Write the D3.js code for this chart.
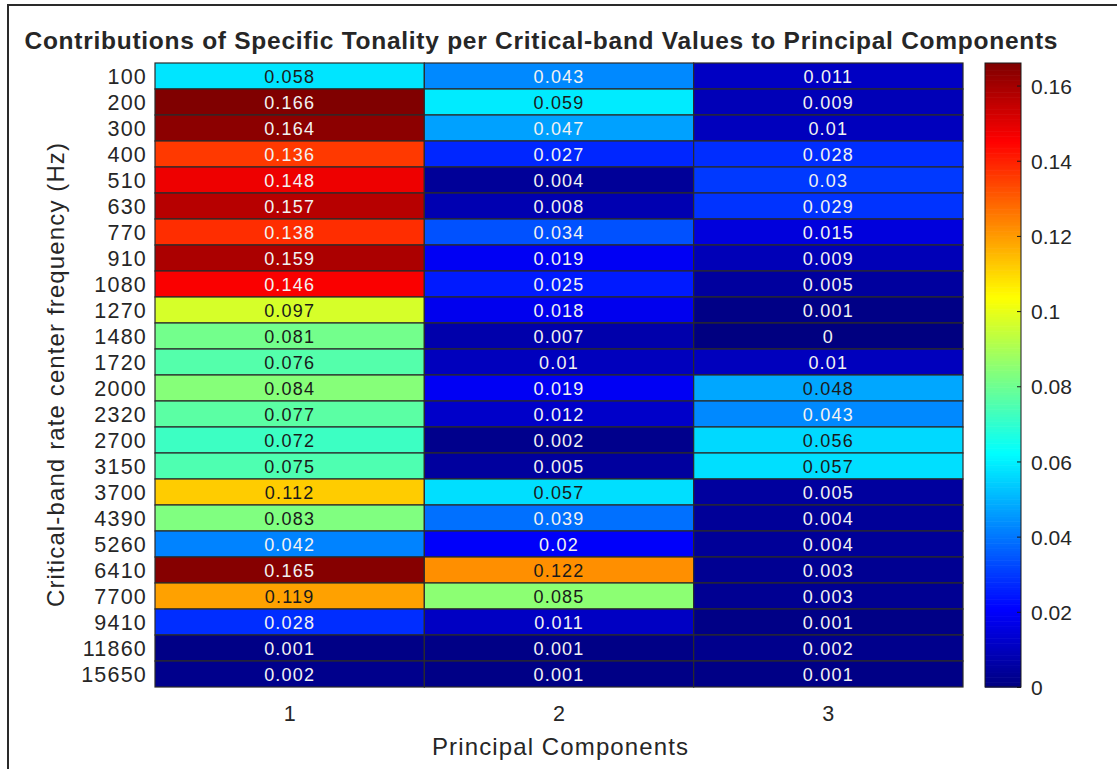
<!DOCTYPE html>
<html>
<head>
<meta charset="utf-8">
<script src="https://cdn.jsdelivr.net/npm/d3@7"></script>
<style>
  html, body { margin: 0; padding: 0; background: #fff; }
  svg { display: block; font-family: "Liberation Sans", Arial, Helvetica, sans-serif; }
</style>
</head>
<body>
<svg id="chart" width="1117" height="769"></svg>
<script>
// Critical-band centre frequencies (rows) and principal components (columns)
const bands = ["100","200","300","400","510","630","770","910","1080","1270","1480","1720",
               "2000","2320","2700","3150","3700","4390","5260","6410","7700","9410","11860","15650"];
const components = ["1","2","3"];

// Contribution of each band to each component
const pc1 = [0.058,0.166,0.164,0.136,0.148,0.157,0.138,0.159,0.146,0.097,0.081,0.076,
             0.084,0.077,0.072,0.075,0.112,0.083,0.042,0.165,0.119,0.028,0.001,0.002];
const pc2 = [0.043,0.059,0.047,0.027,0.004,0.008,0.034,0.019,0.025,0.018,0.007,0.01,
             0.019,0.012,0.002,0.005,0.057,0.039,0.02,0.122,0.085,0.011,0.001,0.001];
const pc3 = [0.011,0.009,0.01,0.028,0.03,0.029,0.015,0.009,0.005,0.001,0,0.01,
             0.048,0.043,0.056,0.057,0.005,0.004,0.004,0.003,0.003,0.001,0.002,0.001];

const colorTicks = [0, 0.02, 0.04, 0.06, 0.08, 0.1, 0.12, 0.14, 0.16];

const series = [pc1, pc2, pc3];
const cells = [];
components.forEach((c, j) => bands.forEach((b, i) => cells.push({comp: c, band: b, value: series[j][i]})));

const svg = d3.select("#chart");
const ink = "#262626";

// figure frame (top and left edges visible)
svg.append("path").attr("d", "M8,769 V5 H1117").attr("fill", "none")
  .attr("stroke", "#2a2a2a").attr("stroke-width", 2);

const plot = {left: 155, right: 963, top: 63, bottom: 687};

const x = d3.scaleBand().domain(components).range([plot.left, plot.right]);
const y = d3.scaleBand().domain(bands).range([plot.top, plot.bottom]);

const vmin = d3.min(cells, d => d.value), vmax = d3.max(cells, d => d.value);

// jet colormap
function jet(t) {
  const c = v => Math.max(0, Math.min(1, v));
  return [c(1.5 - Math.abs(4 * t - 3)), c(1.5 - Math.abs(4 * t - 2)), c(1.5 - Math.abs(4 * t - 1))];
}
const norm = d3.scaleLinear().domain([vmin, vmax]).range([0, 1]).clamp(true);
const rgbOf = v => jet(norm(v));
const colorOf = v => { const [r, g, b] = rgbOf(v); return d3.rgb(r * 255, g * 255, b * 255).formatHex(); };
const textColorOf = v => {
  const [r, g, b] = rgbOf(v);
  return (0.2989 * r + 0.587 * g + 0.114 * b) > 0.49 ? "#1a1a1a" : "#f2f2f2";
};

// heatmap cells
const g = svg.append("g");
g.selectAll("rect.cell").data(cells).join("rect")
  .attr("class", "cell")
  .attr("x", d => x(d.comp)).attr("y", d => y(d.band))
  .attr("width", x.bandwidth()).attr("height", y.bandwidth())
  .attr("fill", d => colorOf(d.value))
  .attr("stroke", "#2b2b2b").attr("stroke-width", 1.2);

g.selectAll("text.val").data(cells).join("text")
  .attr("class", "val")
  .attr("x", d => x(d.comp) + x.bandwidth() / 2)
  .attr("y", d => y(d.band) + y.bandwidth() / 2 + 6.5)
  .attr("text-anchor", "middle")
  .attr("font-size", 18).attr("letter-spacing", 1.2)
  .attr("fill", d => textColorOf(d.value))
  .text(d => String(d.value));

// row labels
svg.append("g").selectAll("text").data(bands).join("text")
  .attr("x", 147).attr("y", d => y(d) + y.bandwidth() / 2 + 7.5)
  .attr("text-anchor", "end").attr("font-size", 21.5).attr("letter-spacing", 1.2)
  .attr("fill", ink).text(d => d);

// column labels
svg.append("g").selectAll("text").data(components).join("text")
  .attr("x", d => x(d) + x.bandwidth() / 2).attr("y", 721)
  .attr("text-anchor", "middle").attr("font-size", 21.5)
  .attr("fill", ink).text(d => d);

// axis titles
svg.append("text").attr("x", 560).attr("y", 755).attr("text-anchor", "middle")
  .attr("font-size", 24).attr("fill", ink)
  .attr("textLength", 256).attr("lengthAdjust", "spacing")
  .text("Principal Components");

svg.append("text").attr("transform", "translate(64,375) rotate(-90)")
  .attr("text-anchor", "middle").attr("font-size", 24).attr("fill", ink)
  .attr("textLength", 464).attr("lengthAdjust", "spacing")
  .text("Critical-band rate center frequency (Hz)");

svg.append("text").attr("x", 541).attr("y", 49).attr("text-anchor", "middle")
  .attr("font-size", 24.5).attr("font-weight", "bold").attr("fill", ink)
  .attr("textLength", 1033).attr("lengthAdjust", "spacing")
  .text("Contributions of Specific Tonality per Critical-band Values to Principal Components");

// colorbar
const cb = {left: 985, right: 1021};
const cy = d3.scaleLinear().domain([vmin, vmax]).range([plot.bottom, plot.top]);
const steps = d3.range(0, 256);
const cbG = svg.append("g");
const stepH = (plot.bottom - plot.top) / steps.length;
cbG.selectAll("rect").data(steps).join("rect")
  .attr("x", cb.left).attr("width", cb.right - cb.left)
  .attr("y", i => cy(vmin + (i + 1) / steps.length * (vmax - vmin)))
  .attr("height", stepH + 0.6)
  .attr("fill", i => colorOf(vmin + (i + 0.5) / steps.length * (vmax - vmin)));
cbG.append("rect").attr("x", cb.left).attr("y", plot.top)
  .attr("width", cb.right - cb.left).attr("height", plot.bottom - plot.top)
  .attr("fill", "none").attr("stroke", "#1a1a1a").attr("stroke-width", 1);

const cbAxis = d3.axisRight(cy).tickValues(colorTicks).tickSize(0).tickPadding(10)
  .tickFormat(d => d3.format("")(+d.toFixed(2)));
const axG = svg.append("g").attr("transform", `translate(${cb.right},0)`).call(cbAxis);
axG.select(".domain").remove();
axG.selectAll("text").attr("font-size", 21).attr("fill", ink)
  .attr("font-family", "'Liberation Sans', Arial, sans-serif").attr("dy", "0.36em");
axG.selectAll(".tick").append("line").attr("x1", -4).attr("x2", 0)
  .attr("stroke", "#1a1a1a").attr("stroke-width", 1);
</script>
</body>
</html>
